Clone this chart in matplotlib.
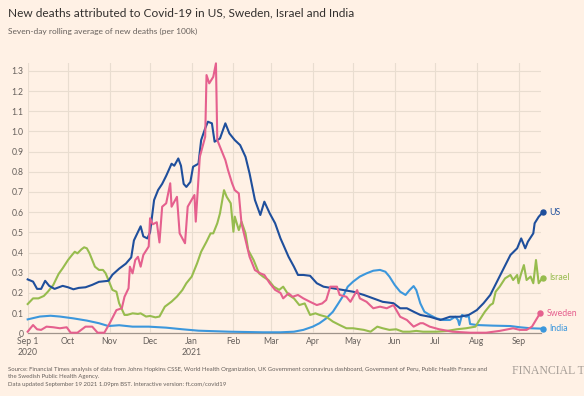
import matplotlib
matplotlib.use("Agg")
import matplotlib.pyplot as plt
import numpy as np
import pandas as pd

START = "2020-09-01"

us_days = [0, 4, 7, 10, 13, 16, 20, 26, 30, 34, 38, 43, 48, 53, 60, 63, 68, 73, 77, 79, 84, 86, 89, 91, 94, 97, 100, 103, 107, 109, 112, 114, 116, 118, 121, 123, 127, 129, 132, 134, 137, 139, 143, 147, 150, 154, 158, 162, 165, 169, 173, 176, 180, 184, 188, 190, 194, 198, 201, 205, 210, 215, 220, 227, 235, 242, 250, 257, 264, 272, 277, 282, 287, 292, 299, 307, 314, 321, 328, 334, 339, 344, 349, 354, 359, 364, 367, 370, 372, 376, 377, 380, 383]
us_vals = [0.267, 0.256, 0.22, 0.22, 0.26, 0.235, 0.22, 0.235, 0.228, 0.218, 0.225, 0.228, 0.24, 0.255, 0.26, 0.29, 0.32, 0.345, 0.376, 0.46, 0.53, 0.48, 0.47, 0.50, 0.66, 0.71, 0.74, 0.78, 0.84, 0.83, 0.866, 0.83, 0.74, 0.725, 0.75, 0.825, 0.84, 0.957, 1.015, 1.048, 1.04, 0.949, 0.965, 1.04, 0.99, 0.957, 0.932, 0.874, 0.792, 0.66, 0.586, 0.652, 0.594, 0.545, 0.47, 0.44, 0.379, 0.33, 0.289, 0.289, 0.285, 0.248, 0.231, 0.223, 0.214, 0.206, 0.19, 0.173, 0.156, 0.149, 0.124, 0.124, 0.107, 0.091, 0.082, 0.066, 0.082, 0.082, 0.091, 0.115, 0.149, 0.19, 0.256, 0.322, 0.388, 0.421, 0.47, 0.421, 0.454, 0.495, 0.545, 0.577, 0.599]

sweden_days = [0, 2, 4, 7, 10, 14, 19, 24, 29, 32, 37, 43, 48, 52, 57, 61, 66, 70, 72, 75, 76, 78, 80, 82, 84, 86, 90, 91, 93, 96, 98, 100, 103, 106, 107, 111, 113, 117, 119, 124, 125, 128, 132, 133, 135, 138, 140, 141, 143, 147, 149, 152, 154, 157, 159, 162, 165, 169, 173, 176, 180, 184, 188, 190, 194, 197, 201, 205, 210, 215, 219, 222, 225, 230, 232, 237, 240, 245, 247, 252, 257, 262, 267, 272, 277, 282, 287, 292, 294, 299, 306, 316, 329, 341, 351, 361, 366, 371, 375, 378, 381]
sweden_vals = [0.008, 0.025, 0.041, 0.02, 0.017, 0.033, 0.03, 0.025, 0.03, 0.003, 0.003, 0.033, 0.033, 0.003, 0.003, 0.05, 0.115, 0.124, 0.181, 0.223, 0.33, 0.297, 0.363, 0.379, 0.33, 0.388, 0.43, 0.57, 0.54, 0.55, 0.45, 0.627, 0.644, 0.743, 0.627, 0.676, 0.495, 0.446, 0.627, 0.685, 0.553, 0.874, 0.973, 1.279, 1.238, 1.27, 1.337, 0.957, 0.924, 0.858, 0.808, 0.743, 0.709, 0.693, 0.545, 0.462, 0.379, 0.313, 0.297, 0.289, 0.248, 0.215, 0.2, 0.173, 0.198, 0.181, 0.19, 0.173, 0.156, 0.14, 0.148, 0.165, 0.231, 0.231, 0.19, 0.181, 0.156, 0.214, 0.173, 0.156, 0.124, 0.132, 0.124, 0.14, 0.082, 0.066, 0.033, 0.05, 0.05, 0.033, 0.02, 0.008, 0.003, 0.003, 0.012, 0.025, 0.017, 0.017, 0.033, 0.066, 0.099]

israel_days = [0, 4, 8, 12, 15, 19, 23, 26, 30, 32, 35, 37, 40, 42, 44, 46, 50, 53, 56, 58, 61, 63, 66, 68, 72, 74, 78, 82, 84, 88, 91, 95, 98, 102, 107, 111, 115, 118, 122, 126, 129, 133, 136, 138, 141, 143, 146, 148, 151, 153, 154, 157, 159, 162, 164, 168, 172, 175, 179, 183, 187, 190, 194, 198, 202, 206, 210, 214, 217, 222, 227, 232, 237, 242, 250, 255, 260, 264, 269, 274, 279, 284, 289, 294, 304, 312, 319, 326, 333, 336, 340, 344, 346, 348, 351, 355, 359, 361, 364, 365, 367, 369, 371, 374, 376, 378, 380, 383]
israel_vals = [0.145, 0.173, 0.173, 0.185, 0.206, 0.239, 0.294, 0.322, 0.363, 0.38, 0.404, 0.396, 0.416, 0.426, 0.421, 0.396, 0.33, 0.314, 0.314, 0.297, 0.248, 0.215, 0.206, 0.149, 0.091, 0.091, 0.099, 0.096, 0.099, 0.083, 0.086, 0.079, 0.083, 0.132, 0.157, 0.182, 0.214, 0.248, 0.281, 0.347, 0.404, 0.454, 0.495, 0.495, 0.545, 0.594, 0.709, 0.676, 0.644, 0.503, 0.578, 0.511, 0.553, 0.495, 0.412, 0.363, 0.297, 0.281, 0.264, 0.231, 0.215, 0.231, 0.19, 0.173, 0.14, 0.148, 0.091, 0.099, 0.091, 0.082, 0.058, 0.041, 0.025, 0.025, 0.017, 0.008, 0.033, 0.025, 0.017, 0.02, 0.008, 0.008, 0.012, 0.008, 0.008, 0.012, 0.02, 0.025, 0.033, 0.066, 0.107, 0.14, 0.148, 0.206, 0.231, 0.272, 0.289, 0.264, 0.289, 0.248, 0.297, 0.338, 0.264, 0.281, 0.248, 0.363, 0.248, 0.276]

india_days = [0, 9, 17, 24, 34, 44, 53, 60, 68, 78, 90, 103, 115, 127, 150, 175, 188, 198, 205, 212, 217, 222, 227, 231, 235, 238, 242, 247, 252, 257, 262, 266, 269, 273, 277, 281, 284, 287, 289, 292, 295, 299, 304, 309, 314, 318, 320, 321, 323, 326, 328, 329, 334, 346, 359, 366, 374, 383]
india_vals = [0.069, 0.083, 0.087, 0.083, 0.074, 0.063, 0.05, 0.036, 0.04, 0.033, 0.033, 0.028, 0.02, 0.013, 0.008, 0.005, 0.005, 0.008, 0.017, 0.033, 0.05, 0.074, 0.107, 0.148, 0.19, 0.231, 0.256, 0.281, 0.297, 0.31, 0.314, 0.305, 0.281, 0.239, 0.206, 0.19, 0.214, 0.234, 0.214, 0.148, 0.107, 0.091, 0.074, 0.066, 0.066, 0.082, 0.066, 0.041, 0.091, 0.082, 0.085, 0.046, 0.041, 0.038, 0.036, 0.03, 0.025, 0.023]

y_ticks = [0, 0.1, 0.2, 0.3, 0.4, 0.5, 0.6, 0.7, 0.8, 0.9, 1.0, 1.1, 1.2, 1.3]
y_tick_labels = ["0", "0.1", "0.2", "0.3", "0.4", "0.5", "0.6", "0.7", "0.8", "0.9", "1.0", "1.1", "1.2", "1.3"]
x_ticks = ["2020-09-01", "2020-10-01", "2020-11-01", "2020-12-01", "2021-01-01", "2021-02-01",
           "2021-03-01", "2021-04-01", "2021-05-01", "2021-06-01", "2021-07-01", "2021-08-01", "2021-09-01"]
x_tick_labels = ["Sep 1\n2020", "Oct", "Nov", "Dec", "Jan\n2021", "Feb", "Mar", "Apr", "May", "Jun", "Jul", "Aug", "Sep"]

title = "New deaths attributed to Covid-19 in US, Sweden, Israel and India"
subtitle = "Seven-day rolling average of new deaths (per 100k)"
source = ("Source: Financial Times analysis of data from Johns Hopkins CSSE, World Health Organization, UK Government coronavirus dashboard, Government of Peru, Public Health France and\n"
          "the Swedish Public Health Agency.\n"
          "Data updated September 19 2021 1.09pm BST. Interactive version: ft.com/covid19")
logo = "FINANCIAL T"

BG = "#FFF1E5"
GRID = "#E9DDD0"
TXT = "#33302E"
GREY = "#66605C"

series = [
    ("US", us_days, us_vals, "#1F4F9C"),
    ("Israel", israel_days, israel_vals, "#97BC4E"),
    ("Sweden", sweden_days, sweden_vals, "#E5608E"),
    ("India", india_days, india_vals, "#3C97DC"),
]

plt.rcParams["font.family"] = ["Lato", "DejaVu Sans"]

fig = plt.figure(figsize=(5.84, 3.96), dpi=100, facecolor=BG)
ax = fig.add_axes([0.0474, 0.1583, 0.8796, 0.6817], facecolor=BG)

start = pd.Timestamp(START)
zorders = {"US": 4, "Sweden": 5, "Israel": 3, "India": 2}
for name, days, vals, col in series:
    dates = start + pd.to_timedelta(days, unit="D")
    ax.plot(dates, vals, color=col, lw=1.5, solid_joinstyle="round", zorder=zorders[name], clip_on=False)
    ax.plot(dates[-1:], vals[-1:], "o", color=col, ms=3.6, zorder=6, clip_on=False)
    ax.annotate(name, (dates[-1], vals[-1]), xytext=(4.5, 0), textcoords="offset points",
                color=col, fontsize=6.3, va="center", ha="left", annotation_clip=False)

ax.set_ylim(0, 1.337)
ax.set_xlim(start, start + pd.Timedelta(days=382))
ax.set_yticks(y_ticks)
ax.set_yticklabels(y_tick_labels)
ax.set_xticks(pd.to_datetime(x_ticks))
ax.set_xticklabels(x_tick_labels)
ax.tick_params(axis="both", length=0, labelsize=6.2, labelcolor=GREY)
ax.tick_params(axis="y", pad=3)
ax.tick_params(axis="x", pad=3)
for lab in ax.get_xticklabels():
    lab.set_linespacing(1.25)
ax.grid(True, color=GRID, lw=0.8, zorder=0)
for s in ["top", "right", "left"]:
    ax.spines[s].set_visible(False)
ax.spines["bottom"].set_color("#A0958C")
ax.spines["bottom"].set_linewidth(0.9)
ax.spines["bottom"].set_zorder(1)

fig.text(8 / 584, 1 - 13 / 396, title, fontsize=8.6, color=TXT, va="center", ha="left")
fig.text(8 / 584, 1 - 31 / 396, subtitle, fontsize=6.0, color=GREY, va="center", ha="left")
fig.text(8 / 584, 1 - 367 / 396, source, fontsize=4.35, color=GREY, va="top", ha="left", linespacing=1.6)
fig.text(512 / 584, 1 - 371 / 396, logo, fontsize=8.5, color="#A59D96",
         family=["Liberation Serif", "DejaVu Serif"], va="center", ha="left")

fig.savefig("out.png", dpi=100, facecolor=BG)
